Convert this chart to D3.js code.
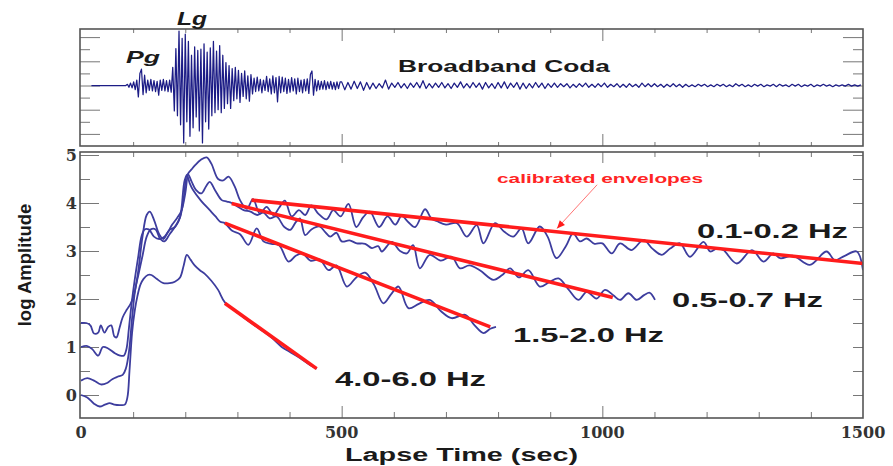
<!DOCTYPE html>
<html>
<head>
<meta charset="utf-8">
<script src="https://cdn.jsdelivr.net/npm/d3@7"></script>
<style>
  html, body { margin: 0; padding: 0; background: #fff; }
  svg { display: block; }
  .tick line { stroke: #777; stroke-width: 1; }
</style>
</head>
<body>
<svg id="chart" width="893" height="466"></svg>
<script>
// ---------------- data ----------------
// Broadband seismogram, first part: sampled every 3 s from 20 s (counts)
const seisStartA = 20, seisStepA = 3;
const seisA = [
  0, 0, 0, 0, 0, 0, 0, 0, 0, 0,            // 20 s
  0, 0, 0, 0, 0, 0, 0, 0, 0, 0,            // 50 s
  0, 0, 0, 2, -3, 4, -4, 6, -7, 9,         // 80 s
  -19, 20, 27, -15, 17, -12, 9, -8, 10, -9, // 110 s  (Pg)
  8, -10, 7, -16, 9, -8, 10, -9, 8, -10,   // 140 s
  9, -11, 30, -42, 61, -50, 90, -65, 78, -95, // 170 s (Lg)
  85, -60, 73, -84, 50, -70, 64, -52, 58, -75, // 200 s
  60, -95, 69, -60, 55, -72, 62, -50, 73, -45, // 230 s
  57, -40, 66, -45, 50, -38, 38, -30, 33, -38, // 260 s
  28, -25, 30, -22, 25, -28, 20, -18, 24, -22, // 290 s
  16, -26, 18, -14, 12, -10, 14, -9, 10, -12,  // 320 s
  9, -8, 15, -10, 11, -14, 16, -12, 13, -27,   // 350 s
  15, -12, 14, -10, 12, -13, 10, -11, 13, -9,  // 380 s
  11, -14, 12, -10, 9, -12, 10, -9, 11, -13,   // 410 s
  18, 24, -16, 10, -9, 8, -7, 7, -6, 8,        // 440 s
  -7, 6, -5, 7, -6, 5, -7, 6, -5, 6            // 470 s
];
// Coda part: sampled every 6 s from 500 s (counts)
const seisStartB = 500, seisStepB = 6;
const seisB = [
  6, -7, 5, -6, 7, -5, 6, -8, 5, -6,       // 500 s
  4, -5, 3, -4, 9, -6, 4, -3, 5, -4,       // 560 s
  3, -5, 4, -3, 5, -4, 8, -5, 3, -4,       // 620 s
  4, -3, 5, -4, 3, -5, 4, -3, 6, -4,       // 680 s
  3, -4, 5, -3, 4, -6, 5, -4, 3, -5,       // 740 s
  5, -4, 6, -5, 4, -3, 5, -6, 4, -5,       // 800 s
  3, -4, 5, -3, 4, -5, 3, -3, 4, -3,       // 860 s
  3, -2, 3, -4, 2, -3, 3, -2, 4, -3,       // 920 s
  2, -3, 3, -2, 4, -3, 2, -2, 3, -3,       // 980 s
  2, -3, 3, -2, 2, -3, 4, -2, 3, -2,       // 1040 s
  3, -2, 2, -3, 2, -2, 3, -2, 2, -3,       // 1100 s
  2, -2, 1, -2, 2, -1, 2, -2, 1, -2,       // 1160 s
  2, -1, 2, -2, 1, -2, 3, -1, 2, -2,       // 1220 s
  1, -2, 2, -1, 2, -2, 1, -1, 2, -2,       // 1280 s
  2, -1, 1, -2, 2, -1, 2, -2, 1, -1,       // 1340 s
  2, -2, 1, -1, 2, -1, 1, -2, 1, -1,       // 1400 s
  1, -1, 2, -1, 1, -1, 1                   // 1460 s
];

// Narrow-band envelopes: [lapse time (s), log amplitude]
const env01 = [
  [0,1.5],[10,1.5],[18,1.45],[25,1.28],[33,1.3],[38,1.45],[45,1.3],[52,1.42],[58,1.45],[64,1.22],
  [68,1.2],[74,1.4],[80,1.62],[88,1.78],[95,1.9],[102,2.1],[110,2.6],[118,3.3],[126,3.75],[132,3.82],
  [140,3.65],[150,3.35],[158,3.25],[166,3.38],[175,3.55],[185,3.7],[193,3.85],[200,4.2],[206,4.62],[212,4.7],
  [219,4.79],[230,4.9],[241,4.95],[250,4.82],[263,4.5],[273,4.47],[283,4.55],[295,4.34],[305,4.06],[318,3.88],
  [330,4.08],[343,3.78],[356,3.92],[369,3.75],[380,3.9],[391,4.05],[404,3.72],[418,3.85],[430,3.75],[442,3.95],
  [455,3.78],[471,3.66],[484,3.85],[498,3.72],[513,3.98],[528,3.5],[541,3.7],[554,3.82],[572,3.5],[588,3.72],
  [603,3.55],[615,3.73],[628,3.6],[641,3.5],[660,3.87],[672,3.68],[683,3.62],[700,3.55],[721,3.58],[740,3.3],
  [759,3.54],[772,3.16],[794,3.58],[812,3.4],[829,3.3],[845,3.47],[858,3.16],[880,3.51],[895,3.3],[912,2.85],
  [930,3.1],[944,3.37],[957,3.2],[970,3.26],[985,3.15],[1000,3.16],[1018,2.95],[1034,3.16],[1056,3.02],[1079,3.23],
  [1096,3.05],[1114,2.92],[1130,3.05],[1149,3.16],[1168,2.88],[1194,3.19],[1207,2.99],[1220,3.05],[1232,3.02],[1258,2.74],
  [1287,3.02],[1309,2.78],[1328,2.95],[1341,2.85],[1366,2.9],[1398,2.71],[1430,2.99],[1446,2.81],[1465,2.9],[1488,2.99],
  [1500,2.6]
];
const env05 = [
  [0,1.0],[12,1.02],[22,0.95],[33,0.82],[42,1.0],[52,0.97],[65,0.87],[75,0.82],[82,0.82],[87,0.95],
  [92,1.4],[97,1.9],[103,2.4],[110,2.9],[116,3.3],[122,3.45],[130,3.45],[140,3.3],[150,3.25],[160,3.3],
  [170,3.44],[180,3.5],[190,3.71],[199,4.48],[205,4.6],[212,4.45],[220,4.28],[231,4.2],[240,4.35],[247,4.44],
  [258,4.25],[270,4.06],[280,4.03],[289,4.0],[300,3.93],[312,3.85],[325,3.82],[338,3.75],[350,3.8],[362,3.68],
  [375,3.72],[390,3.5],[401,3.44],[412,3.6],[420,3.68],[430,3.33],[442,3.45],[458,3.51],[468,3.4],[478,3.3],
  [490,3.38],[500,3.2],[515,3.22],[529,3.16],[545,3.15],[558,3.06],[570,3.1],[577,2.99],[596,3.19],[612,3.0],
  [625,2.95],[637,3.12],[650,2.64],[669,2.92],[690,2.8],[711,2.88],[727,2.64],[745,2.7],[765,2.6],[791,2.4],
  [808,2.5],[823,2.64],[840,2.45],[858,2.6],[880,2.26],[898,2.35],[916,2.43],[935,2.2],[954,1.98],[970,2.15],
  [989,2.01],[1005,2.19],[1021,2.08],[1034,1.98],[1050,2.12],[1066,1.98],[1080,2.08],[1091,2.13],[1101,1.98]
];
const env15 = [
  [0,0.3],[12,0.35],[25,0.3],[38,0.22],[50,0.25],[60,0.33],[70,0.38],[80,0.42],[86,0.55],[92,0.9],
  [98,1.6],[104,2.2],[110,2.5],[118,2.9],[126,3.3],[134,3.45],[143,3.45],[152,3.25],[160,3.2],[170,3.35],
  [180,3.5],[190,3.7],[197,4.1],[203,4.58],[209,4.4],[215,4.27],[230,4.05],[247,3.85],[258,3.72],[267,3.61],
  [276,3.58],[290,3.42],[305,3.35],[321,3.13],[337,3.47],[350,3.2],[365,3.15],[380,3.12],[398,2.78],[412,2.9],
  [425,2.95],[440,2.8],[458,2.82],[475,2.6],[490,2.7],[510,2.26],[528,2.45],[545,2.55],[562,2.3],[580,1.91],
  [595,2.1],[609,2.26],[628,1.81],[648,1.9],[669,1.98],[690,1.75],[711,1.6],[737,1.67],[755,1.45],[772,1.29],
  [785,1.38],[796,1.42]
];
const env40 = [
  [0,0.0],[12,-0.05],[25,-0.18],[36,-0.24],[46,-0.2],[55,-0.17],[64,-0.2],[75,-0.21],[84,-0.2],[89,-0.05],
  [93,0.5],[98,1.3],[103,1.75],[108,2.05],[114,2.3],[120,2.42],[128,2.5],[135,2.5],[145,2.42],[158,2.33],
  [170,2.33],[180,2.36],[190,2.45],[197,2.7],[203,2.92],[210,2.82],[218,2.7],[228,2.6],[237,2.53],[250,2.38],
  [263,2.19],[276,1.93],[300,1.72],[320,1.55],[345,1.36],[365,1.2],[385,1.0],[400,0.9],[420,0.77],[440,0.62],
  [452,0.55]
];

// Calibrated coda envelope fits: start and end [lapse time, log amplitude]
const fitStart = [[327, 4.06], [289, 3.99], [276, 3.58], [276, 1.91]];
const fitEnd   = [[1500, 2.74], [1020, 2.03], [785, 1.42], [452, 0.55]];
const bandLabels = ["0.1-0.2 Hz", "0.5-0.7 Hz", "1.5-2.0 Hz", "4.0-6.0 Hz"];

// Axis ticks
const timeMajor = [0, 500, 1000, 1500];
const timeMinor = [100, 200, 300, 400, 600, 700, 800, 900, 1100, 1200, 1300, 1400];
const ampMajor = [0, 1, 2, 3, 4, 5];
const ampHalf = [0.5, 1.5, 2.5, 3.5, 4.5];
const seisMajor = [-80, -40, 0, 40, 80];
const seisMinor = [-60, -20, 20, 60];

// ---------------- layout ----------------
const svg = d3.select("#chart");
const topBox = { x0: 80, x1: 863, y0: 29, y1: 146 };
const botBox = { x0: 80, x1: 863, y0: 152, y1: 418 };

const x = d3.scaleLinear().domain([0, 1500]).range([81, 863]);
const yEnv = d3.scaleLinear().domain([0, 5]).range([395, 155]);
const ySeis = d3.scaleLinear().domain([-100, 100]).range([146, 25]);

const sans = "'Liberation Sans', Arial, Helvetica, sans-serif";
const serif = "'DejaVu Serif', 'Liberation Serif', serif";

const defs = svg.append("defs");
defs.append("clipPath").attr("id", "clipTop").append("rect")
  .attr("x", topBox.x0).attr("y", topBox.y0)
  .attr("width", topBox.x1 - topBox.x0).attr("height", topBox.y1 - topBox.y0);
defs.append("clipPath").attr("id", "clipBot").append("rect")
  .attr("x", botBox.x0).attr("y", botBox.y0)
  .attr("width", botBox.x1 - botBox.x0).attr("height", botBox.y1 - botBox.y0);

// ---------------- ticks ----------------
function ticks(axis, tx, ty) {
  const g = svg.append("g").attr("transform", `translate(${tx},${ty})`).call(axis);
  g.select(".domain").remove();
  g.selectAll("text").remove();
  return g;
}
// seismogram panel
ticks(d3.axisTop(x).tickValues(timeMinor).tickSize(-4), 0, topBox.y0);
ticks(d3.axisTop(x).tickValues([500, 1000]).tickSize(-12), 0, topBox.y0);
ticks(d3.axisBottom(x).tickValues(timeMinor).tickSize(-4), 0, topBox.y1);
ticks(d3.axisBottom(x).tickValues([500, 1000]).tickSize(-12), 0, topBox.y1);
ticks(d3.axisLeft(ySeis).tickValues(seisMajor).tickSize(-20), topBox.x0, 0);
ticks(d3.axisLeft(ySeis).tickValues(seisMinor).tickSize(-10), topBox.x0, 0);
ticks(d3.axisRight(ySeis).tickValues(seisMajor).tickSize(-20), topBox.x1, 0);
ticks(d3.axisRight(ySeis).tickValues(seisMinor).tickSize(-10), topBox.x1, 0);
// envelope panel
ticks(d3.axisTop(x).tickValues(timeMinor).tickSize(-5), 0, botBox.y0);
ticks(d3.axisTop(x).tickValues([500, 1000]).tickSize(-11), 0, botBox.y0);
ticks(d3.axisBottom(x).tickValues(timeMinor).tickSize(-6), 0, botBox.y1);
ticks(d3.axisBottom(x).tickValues([500, 1000]).tickSize(-12), 0, botBox.y1);
ticks(d3.axisLeft(yEnv).tickValues(ampMajor).tickSize(-19), botBox.x0, 0);
ticks(d3.axisLeft(yEnv).tickValues(ampHalf).tickSize(-10), botBox.x0, 0);
ticks(d3.axisRight(yEnv).tickValues(ampMajor.concat(ampHalf)).tickSize(-10), botBox.x1, 0);

// ---------------- seismogram ----------------
const seisPts = seisA.map((a, i) => [seisStartA + i * seisStepA, a])
  .concat(seisB.map((a, i) => [seisStartB + i * seisStepB, a]));
svg.append("path")
  .attr("clip-path", "url(#clipTop)")
  .attr("d", d3.line().x(d => x(d[0])).y(d => ySeis(d[1]))(seisPts))
  .attr("fill", "none")
  .attr("stroke", "#1c1c86")
  .attr("stroke-width", 1.25)
  .attr("stroke-linejoin", "round");

// ---------------- envelopes ----------------
const envLine = d3.line().curve(d3.curveCatmullRom.alpha(0.5))
  .x(d => x(d[0])).y(d => yEnv(d[1]));
const envG = svg.append("g").attr("clip-path", "url(#clipBot)");
[env40, env15, env05, env01].forEach(e => {
  envG.append("path").attr("d", envLine(e))
    .attr("fill", "none").attr("stroke", "#3d3d9e").attr("stroke-width", 1.8);
});
fitStart.forEach((s, i) => {
  envG.append("line")
    .attr("x1", x(s[0])).attr("y1", yEnv(s[1]))
    .attr("x2", x(fitEnd[i][0])).attr("y2", yEnv(fitEnd[i][1]))
    .attr("stroke", "#ff1c1c").attr("stroke-width", 3.6);
});

// ---------------- frames ----------------
[topBox, botBox].forEach(b => {
  svg.append("rect").attr("x", b.x0).attr("y", b.y0)
    .attr("width", b.x1 - b.x0).attr("height", b.y1 - b.y0)
    .attr("fill", "none").attr("stroke", "#555").attr("stroke-width", 1.6);
});

// ---------------- axis labels ----------------
svg.append("g").selectAll("text").data(timeMajor).join("text")
  .attr("x", d => x(d)).attr("y", 438)
  .attr("text-anchor", "middle")
  .attr("font-family", serif).attr("font-weight", "bold").attr("font-size", 16)
  .attr("fill", "#333").text(d => d);
svg.append("g").selectAll("text").data(ampMajor).join("text")
  .attr("x", 77).attr("y", d => yEnv(d) + 6)
  .attr("text-anchor", "end")
  .attr("font-family", serif).attr("font-weight", "bold").attr("font-size", 16)
  .attr("fill", "#333").text(d => d);

function label(txt, x0, y0, size, len, opts = {}) {
  return svg.append("text")
    .attr("x", x0).attr("y", y0)
    .attr("font-family", sans).attr("font-weight", "bold")
    .attr("font-style", opts.italic ? "italic" : "normal")
    .attr("font-size", size)
    .attr("fill", opts.color || "#1a1a1a")
    .attr("textLength", len).attr("lengthAdjust", "spacingAndGlyphs")
    .text(txt);
}
label("Lapse Time (sec)", 345, 461, 18, 233);
svg.append("text")
  .attr("transform", "translate(31,265) rotate(-90)")
  .attr("text-anchor", "middle")
  .attr("font-family", sans).attr("font-weight", "bold").attr("font-size", 18.5)
  .attr("fill", "#1a1a1a").text("log Amplitude");

// phase and trace annotations
label("Pg", 126, 63, 17, 34, { italic: true });
label("Lg", 177, 25, 19, 30, { italic: true });
label("Broadband Coda", 398, 72, 16.5, 212);

// band labels
const bandPos = [[697, 238], [672, 307], [513, 342], [335, 386]];
bandLabels.forEach((t, i) => label(t, bandPos[i][0], bandPos[i][1], 21, 151));

// calibrated envelopes note with arrow
label("calibrated envelopes", 497, 183, 13.5, 206, { color: "#ff2424" });
const arrowFrom = [x(990), yEnv(4.38)], arrowTo = [x(913), yEnv(3.47)];
svg.append("line")
  .attr("x1", arrowFrom[0]).attr("y1", arrowFrom[1])
  .attr("x2", arrowTo[0]).attr("y2", arrowTo[1])
  .attr("stroke", "#ff5050").attr("stroke-width", 0.8);
{
  const ang = Math.atan2(arrowTo[1] - arrowFrom[1], arrowTo[0] - arrowFrom[0]);
  const L = 8, Wd = 3.5;
  const bx = arrowTo[0] - L * Math.cos(ang), by = arrowTo[1] - L * Math.sin(ang);
  const px = -Math.sin(ang) * Wd, py = Math.cos(ang) * Wd;
  svg.append("path")
    .attr("d", `M${arrowTo[0]},${arrowTo[1]}L${bx + px},${by + py}L${bx - px},${by - py}Z`)
    .attr("fill", "#ff1c1c");
}
</script>
</body>
</html>
